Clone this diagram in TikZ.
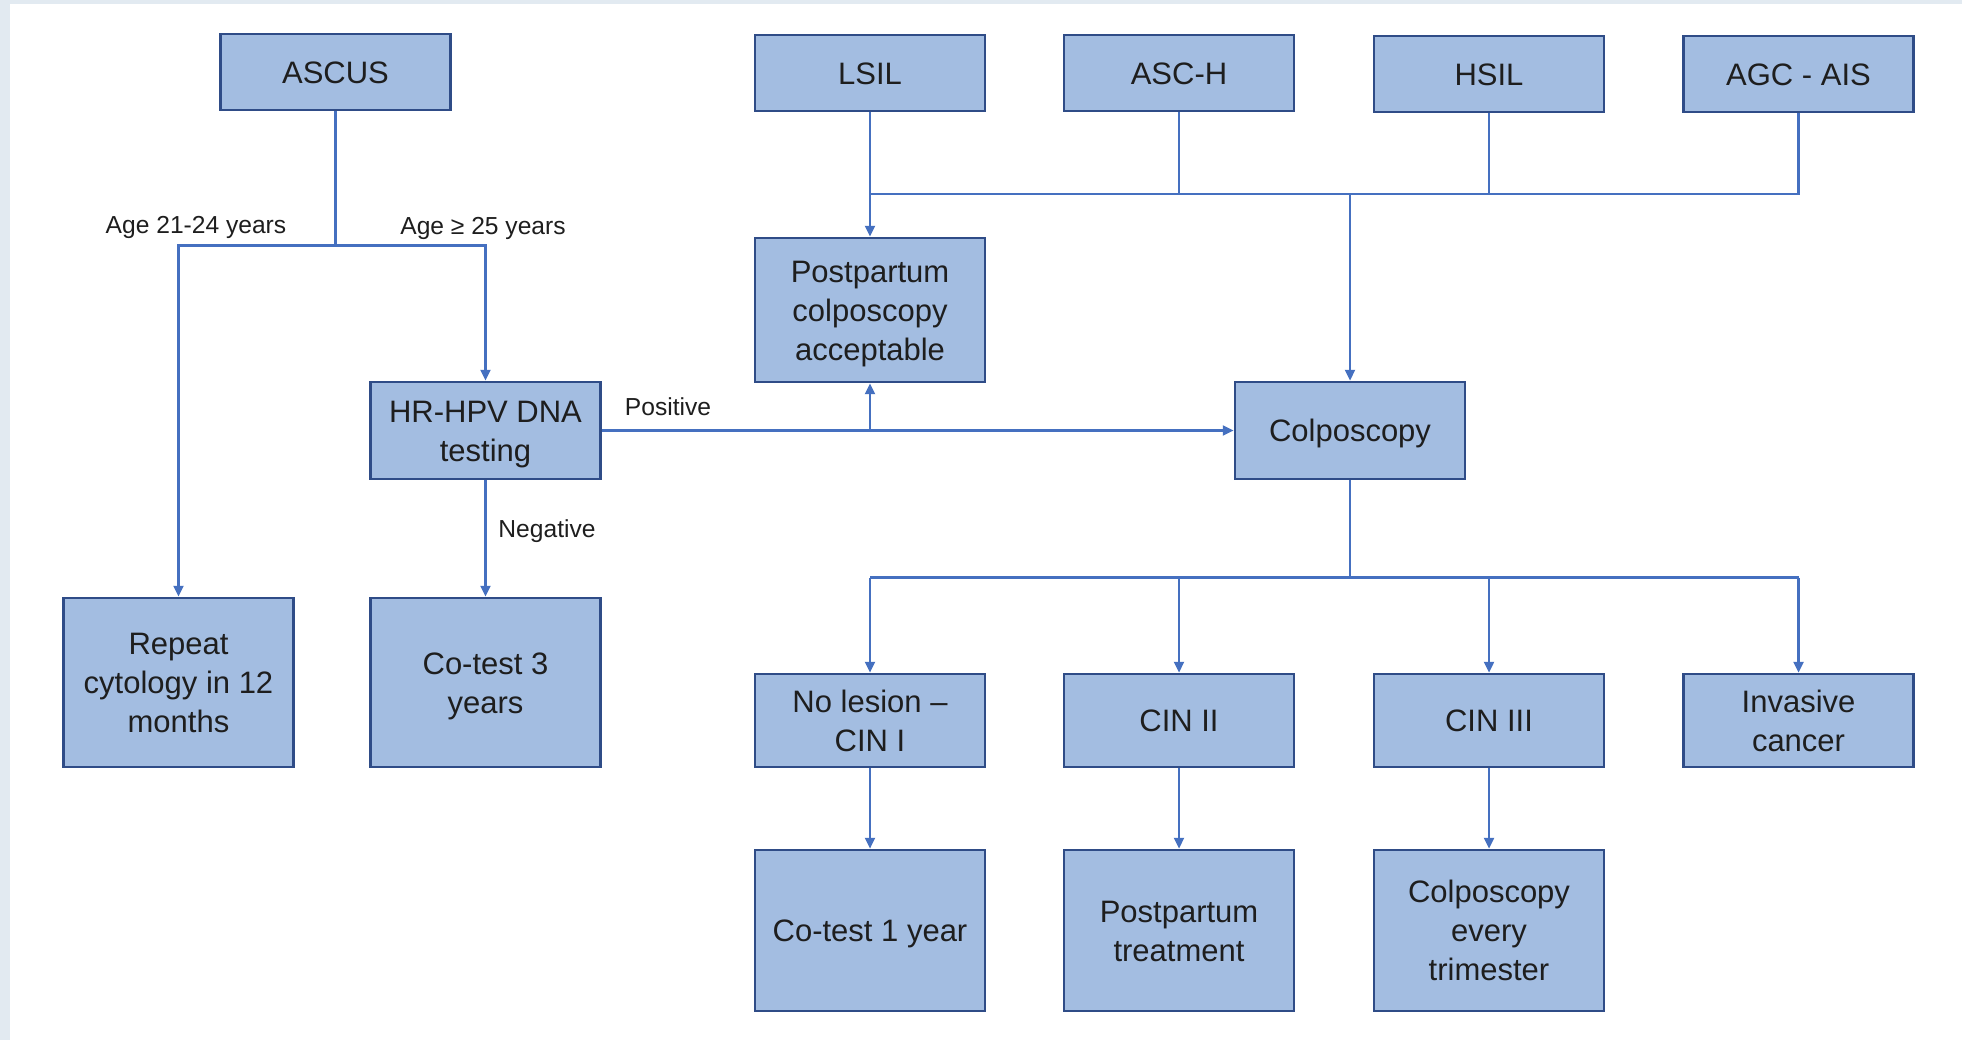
\documentclass[tikz,border=0pt]{standalone}
\usepackage{fontspec}
\setmainfont{Liberation Sans}
\usetikzlibrary{arrows.meta}
\definecolor{boxfill}{HTML}{A3BDE1}
\definecolor{boxline}{HTML}{2F4C87}
\definecolor{conn}{HTML}{4570C0}
\definecolor{txt}{HTML}{1E1E1E}
\definecolor{frame}{HTML}{E2EAF1}
\newcommand{\boxtxt}[1]{\raisebox{-1.7pt}[\height][\depth]{\begin{tabular}{@{}c@{}}#1\end{tabular}}}
\tikzset{
  box/.style={draw=boxline, line width=1.4pt, fill=boxfill, minimum width=115pt,
    align=center, text=txt, font=\fontsize{15.5}{19.5}\selectfont, inner sep=2pt},
  lbl/.style={text=txt, font=\fontsize{12.3}{14}\selectfont, inner sep=0pt},
  con/.style={draw=conn, line width=1.05pt},
  arr/.style={con, -{Triangle[length=5.4pt,width=5pt]}}
}
\begin{document}
\begin{tikzpicture}[x=0.5pt,y=-0.5pt]
\fill[frame] (0,0) rectangle (1962,1040);
\fill[white] (10,4) rectangle (1962,1040);
\useasboundingbox (0,0) rectangle (1962,1040);

% top row
\node[box, minimum height=38pt] (ascus) at (335.5,72) {\boxtxt{ASCUS}};
\node[box, minimum height=38pt] (lsil) at (870,73) {\boxtxt{LSIL}};
\node[box, minimum height=38pt] (asch) at (1179,73) {\boxtxt{ASC-H}};
\node[box, minimum height=38pt] (hsil) at (1489,74) {\boxtxt{HSIL}};
\node[box, minimum height=38pt] (agc) at (1798.5,74) {\boxtxt{AGC - AIS}};

\node[box, minimum height=72pt] (ppc) at (870,310) {\boxtxt{Postpartum\\colposcopy\\acceptable}};
\node[box, minimum height=48.5pt] (hpv) at (485.5,430.5) {\boxtxt{HR-HPV DNA\\testing}};
\node[box, minimum height=48.5pt] (colp) at (1350,430.5) {\boxtxt{Colposcopy}};

\node[box, minimum height=84.5pt] (rep) at (178.5,682.5) {\boxtxt{Repeat\\cytology in 12\\months}};
\node[box, minimum height=84.5pt] (ct3) at (485.5,682.5) {\boxtxt{Co-test 3\\years}};

\node[box, minimum height=46.5pt] (nol) at (870,720.5) {\boxtxt{No lesion –\\CIN I}};
\node[box, minimum height=46.5pt] (cin2) at (1179,720.5) {\boxtxt{CIN II}};
\node[box, minimum height=46.5pt] (cin3) at (1489,720.5) {\boxtxt{CIN III}};
\node[box, minimum height=46.5pt] (inv) at (1798.5,720.5) {\boxtxt{Invasive\\cancer}};

\node[box, minimum height=80.5pt] (ct1) at (870,930.5) {\boxtxt{Co-test 1 year}};
\node[box, minimum height=80.5pt] (ppt) at (1179,930.5) {\boxtxt{Postpartum\\treatment}};
\node[box, minimum height=80.5pt] (cet) at (1489,930.5) {\boxtxt{Colposcopy\\every\\trimester}};

% labels
\node[lbl] (l1) at (196,227.5) {Age 21-24 years};
\node[lbl] (l2) at (483,228.5) {Age ≥ 25 years};
\node[lbl] (l3) at (668,406.5) {Positive};
\node[lbl] (l4) at (547,531.5) {Negative};

% ASCUS branch
\coordinate (split) at (335.5,245.5);
\draw[con] (ascus) -- (split);
\draw[arr] (split) -| (rep.north);
\draw[arr] (split) -| (hpv.north);
\draw[arr] (hpv) -- (ct3);

% top bus
\coordinate (bus) at (1350,194);
\draw[arr] (lsil) -- (ppc);
\draw[con] (lsil.south |- bus) -- (agc.south |- bus) -- (agc.south);
\draw[con] (asch.south) -- (asch.south |- bus);
\draw[con] (hsil.south) -- (hsil.south |- bus);
\draw[arr] (bus) -- (colp.north);

% positive
\draw[arr] (hpv.east) -- (colp.west);
\draw[arr] (ppc.south |- hpv.east) -- (ppc.south);

% lower bus
\coordinate (bus2) at (1350,577.5);
\draw[con] (colp) -- (bus2);
\draw[con] (nol.north |- bus2) -- (inv.north |- bus2);
\draw[arr] (nol.north |- bus2) -- (nol.north);
\draw[arr] (cin2.north |- bus2) -- (cin2.north);
\draw[arr] (cin3.north |- bus2) -- (cin3.north);
\draw[arr] (inv.north |- bus2) -- (inv.north);

% bottom
\draw[arr] (nol) -- (ct1);
\draw[arr] (cin2) -- (ppt);
\draw[arr] (cin3) -- (cet);
\end{tikzpicture}
\end{document}
